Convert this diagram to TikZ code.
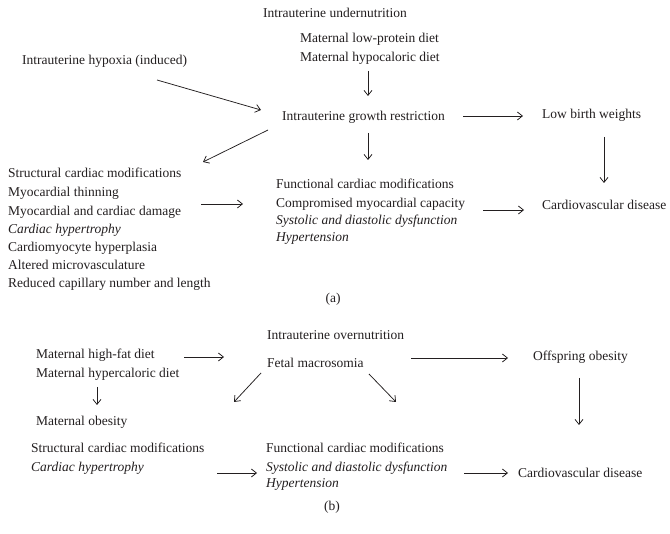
\documentclass[tikz,border=0pt]{standalone}
\usepackage{fontspec}
\setmainfont{Liberation Serif}
\usetikzlibrary{arrows.meta,calc}
\definecolor{ink}{HTML}{231F20}
\begin{document}
\begin{tikzpicture}[x=1pt,y=-1pt,
  txt/.style={anchor=west,inner sep=0pt,text height=11pt,text depth=1pt,text=ink,font=\fontsize{13.5}{16}\selectfont},
  itx/.style={txt,font=\fontsize{13.5}{16}\selectfont\itshape},
  lab/.style={inner sep=0pt,text height=11pt,text depth=1pt,text=ink,font=\fontsize{13.5}{16}\selectfont},
  arr/.style={draw=ink,line width=0.75pt,-{Straight Barb[length=5pt,width=8pt]}}]
\useasboundingbox[fill=white] (0,0) rectangle (670,534);
% ---------- panel (a)
\node[txt] (un) at (263,13) {Intrauterine undernutrition};
\node[txt] (lp) at (300,38) {Maternal low-protein diet};
\node[txt] (hc) at (300,57) {Maternal hypocaloric diet};
\node[txt] (hyp) at (22,60) {Intrauterine hypoxia (induced)};
\node[txt] (igr) at (282,116) {Intrauterine growth restriction};
\node[txt] (lbw) at (542,114) {Low birth weights};
\node[txt] (cvda) at (542,205) {Cardiovascular disease};
\node[txt] (s1) at (8,173) {Structural cardiac modifications};
\node[txt] (s2) at (8,192) {Myocardial thinning};
\node[txt] (s3) at (8,211) {Myocardial and cardiac damage};
\node[itx] (s4) at (8,229) {Cardiac hypertrophy};
\node[txt] (s5) at (8,247) {Cardiomyocyte hyperplasia};
\node[txt] (s6) at (8,265) {Altered microvasculature};
\node[txt] (s7) at (8,283) {Reduced capillary number and length};
\node[txt] (f1) at (276,184) {Functional cardiac modifications};
\node[txt] (f2) at (276,203) {Compromised myocardial capacity};
\node[itx] (f3) at (276,220) {Systolic and diastolic dysfunction};
\node[itx] (f4) at (276,237) {Hypertension};
\node[lab] (capa) at (333,298) {(a)};
\draw[arr] ($(hc.west)+(68,14)$) -- ($(hc.west)+(68,39)$);
\draw[arr] ($(hyp.west)+(135,20)$) -- ($(igr.west)+(-21,-6)$);
\draw[arr] ($(igr.west)+(181,0)$) -- ($(lbw.west)+(-19,2)$);
\draw[arr] ($(lbw.west)+(62,23)$) -- ($(cvda.west)+(62,-22)$);
\draw[arr] ($(igr.west)+(86,17)$) -- ($(f1.west)+(92,-24)$);
\draw[arr] ($(igr.west)+(-14,14)$) -- ($(s1.west)+(195,-11)$);
\draw[arr] ($(s3.west)+(193,-7)$) -- ($(f2.west)+(-33,1)$);
\draw[arr] ($(f2.west)+(207,7)$) -- ($(cvda.west)+(-18,5)$);
% ---------- panel (b)
\node[txt] (on) at (267,335) {Intrauterine overnutrition};
\node[txt] (hf) at (36,354) {Maternal high-fat diet};
\node[txt] (hcal) at (36,373) {Maternal hypercaloric diet};
\node[txt] (fm) at (267,363) {Fetal macrosomia};
\node[txt] (oo) at (533,356) {Offspring obesity};
\node[txt] (mo) at (36,421) {Maternal obesity};
\node[txt] (sb1) at (31,448) {Structural cardiac modifications};
\node[itx] (sb2) at (31,467) {Cardiac hypertrophy};
\node[txt] (fb1) at (266,448) {Functional cardiac modifications};
\node[itx] (fb2) at (266,467) {Systolic and diastolic dysfunction};
\node[itx] (fb3) at (266,483) {Hypertension};
\node[txt] (cvdb) at (518,473) {Cardiovascular disease};
\node[lab] (capb) at (332,506) {(b)};
\draw[arr] ($(hf.west)+(148,3)$) -- ($(fm.west)+(-43,-6)$);
\draw[arr] ($(fm.west)+(144,-5)$) -- ($(oo.west)+(-25,2)$);
\draw[arr] ($(oo.west)+(46,22)$) -- ($(cvdb.west)+(61,-48)$);
\draw[arr] ($(fm.west)+(-6,10)$) -- ($(sb1.west)+(203,-46)$);
\draw[arr] ($(fm.west)+(102,11)$) -- ($(fb1.west)+(130,-46)$);
\draw[arr] ($(hcal.west)+(61,14)$) -- ($(mo.west)+(61,-16)$);
\draw[arr] ($(sb2.west)+(186,6)$) -- ($(fb2.west)+(-9,6)$);
\draw[arr] ($(fb2.west)+(198,6)$) -- ($(cvdb.west)+(-10,0)$);
\end{tikzpicture}
\end{document}
